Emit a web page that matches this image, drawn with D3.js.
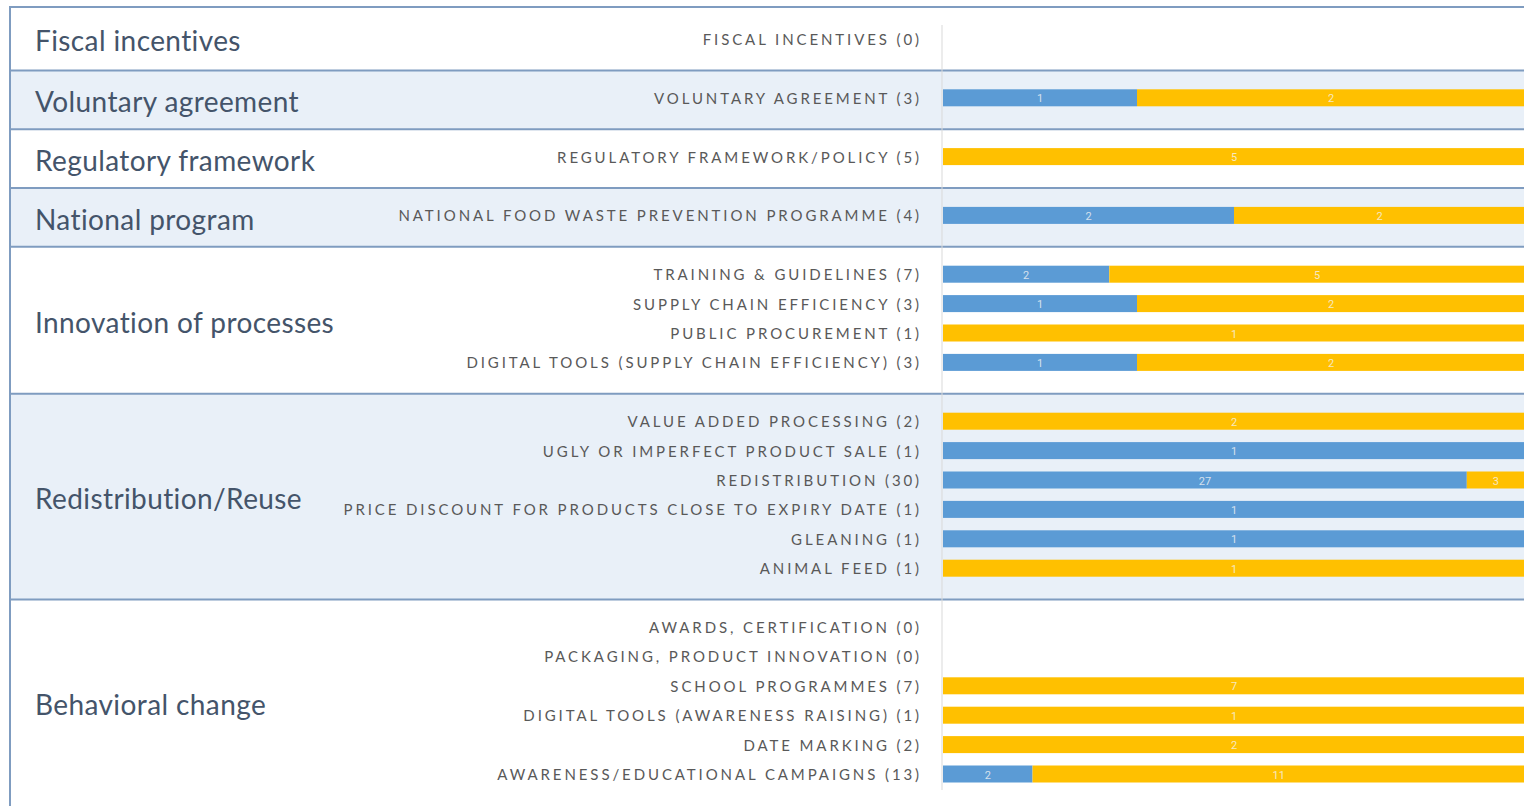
<!DOCTYPE html>
<html>
<head>
<meta charset="utf-8">
<script src="https://cdn.jsdelivr.net/npm/d3@7"></script>
<style>
  body { margin: 0; background: #fff; }
  svg { display: block; }
</style>
</head>
<body>
<svg id="chart" width="1524" height="806"></svg>
<script>
// rows of the chart, top to bottom ("" = empty spacer row between groups)
const rowLabels = [
  "FISCAL INCENTIVES", "",
  "VOLUNTARY AGREEMENT", "",
  "REGULATORY FRAMEWORK/POLICY", "",
  "NATIONAL FOOD WASTE PREVENTION PROGRAMME", "",
  "TRAINING & GUIDELINES", "SUPPLY CHAIN EFFICIENCY", "PUBLIC PROCUREMENT", "DIGITAL TOOLS (SUPPLY CHAIN EFFICIENCY)", "",
  "VALUE ADDED PROCESSING", "UGLY OR IMPERFECT PRODUCT SALE", "REDISTRIBUTION",
  "PRICE DISCOUNT FOR PRODUCTS CLOSE TO EXPIRY DATE", "GLEANING", "ANIMAL FEED", "",
  "AWARDS, CERTIFICATION", "PACKAGING, PRODUCT INNOVATION", "SCHOOL PROGRAMMES",
  "DIGITAL TOOLS (AWARENESS RAISING)", "DATE MARKING", "AWARENESS/EDUCATIONAL CAMPAIGNS"
];
const blueCounts = [
  0, null, 1, null, 0, null, 2, null,
  2, 1, 0, 1, null,
  0, 1, 27, 1, 1, 0, null,
  0, 0, 0, 0, 0, 2
];
const orangeCounts = [
  0, null, 2, null, 5, null, 2, null,
  5, 2, 1, 2, null,
  2, 0, 3, 0, 0, 1, null,
  0, 0, 7, 1, 2, 11
];
// groups: name, first row index, last row index
const groupNames = ["Fiscal incentives", "Voluntary agreement", "Regulatory framework", "National program",
  "Innovation of processes", "Redistribution/Reuse", "Behavioral change"];
const groupFirst = [0, 2, 4, 6, 8, 13, 20];
const groupLast  = [0, 2, 4, 6, 11, 18, 25];

const svg = d3.select("#chart");
const W = 1524, H = 806;
const blue = "#5b9bd5", orange = "#ffc000";

const rowIds = rowLabels.map((d, i) => i);
const y = d3.scalePoint().domain(rowIds).range([24.3, 788.7]).padding(0.5);
const x = d3.scaleLinear().domain([0, 1]).range([943, 1525]);
const barH = 17;

// group bands
const groups = groupNames.map((name, i) => ({
  name: name,
  first: groupFirst[i],
  last: groupLast[i],
  top: i === 0 ? 7 : y(groupFirst[i] - 1) + 2,
  bottom: i === groupNames.length - 1 ? H : y(groupLast[i] + 1) + 2
}));

svg.append("g").selectAll("rect").data(groups).join("rect")
  .attr("x", 10).attr("width", W - 10)
  .attr("y", d => d.top).attr("height", d => d.bottom - d.top)
  .attr("fill", (d, i) => i % 2 ? "#e9f0f8" : "#ffffff");

// separators
svg.append("g").selectAll("line").data(groups).join("line")
  .attr("x1", 10).attr("x2", W)
  .attr("y1", d => d.top).attr("y2", d => d.top)
  .attr("stroke", "#7f9cc0").attr("stroke-width", 2);
svg.append("line").attr("x1", 10).attr("x2", 10).attr("y1", 6).attr("y2", H)
  .attr("stroke", "#7f9cc0").attr("stroke-width", 2);

// vertical axis line
svg.append("line").attr("x1", 942).attr("x2", 942).attr("y1", 25).attr("y2", 790)
  .attr("stroke", "#d9d9d9").attr("stroke-width", 1);

// group labels
svg.append("g").selectAll("text").data(groups).join("text")
  .attr("x", 35)
  .attr("y", d => (d.top + d.bottom) / 2 + 1.5)
  .attr("dominant-baseline", "central")
  .attr("font-family", "Lato, 'Open Sans', sans-serif")
  .attr("font-size", 28)
  .attr("letter-spacing", 0.4)
  .attr("fill", "#44546a")
  .text(d => d.name);

// rows
const rows = rowLabels.map((label, i) => ({
  label: label, i: i, a: blueCounts[i], b: orangeCounts[i]
})).filter(d => d.label !== "");

svg.append("g").selectAll("text").data(rows).join("text")
  .attr("x", 922)
  .attr("y", d => y(d.i))
  .attr("text-anchor", "end")
  .attr("dominant-baseline", "central")
  .attr("font-family", "Lato, 'Open Sans', sans-serif")
  .attr("font-size", 15)
  .attr("letter-spacing", 2.9)
  .attr("fill", "#595959")
  .text(d => d.label + " (" + (d.a + d.b) + ")");

// stacked 100% bars
const segs = [];
rows.forEach(d => {
  const tot = d.a + d.b;
  if (tot === 0) return;
  if (d.a > 0) segs.push({ i: d.i, x0: 0, x1: d.a / tot, v: d.a, c: blue });
  if (d.b > 0) segs.push({ i: d.i, x0: d.a / tot, x1: 1, v: d.b, c: orange });
});

const bars = svg.append("g");
bars.selectAll("rect").data(segs).join("rect")
  .attr("x", d => x(d.x0))
  .attr("width", d => x(d.x1) - x(d.x0))
  .attr("y", d => y(d.i) - barH / 2)
  .attr("height", barH)
  .attr("fill", d => d.c);

bars.selectAll("text").data(segs).join("text")
  .attr("x", d => (x(d.x0) + x(d.x1)) / 2)
  .attr("y", d => y(d.i) + 1)
  .attr("text-anchor", "middle")
  .attr("dominant-baseline", "central")
  .attr("font-family", "'Liberation Sans Narrow', 'Roboto', sans-serif")
  .attr("font-size", 11)
  .attr("fill", "#f4f4f4")
  .attr("fill-opacity", 0.8)
  .text(d => d.v);
</script>
</body>
</html>
